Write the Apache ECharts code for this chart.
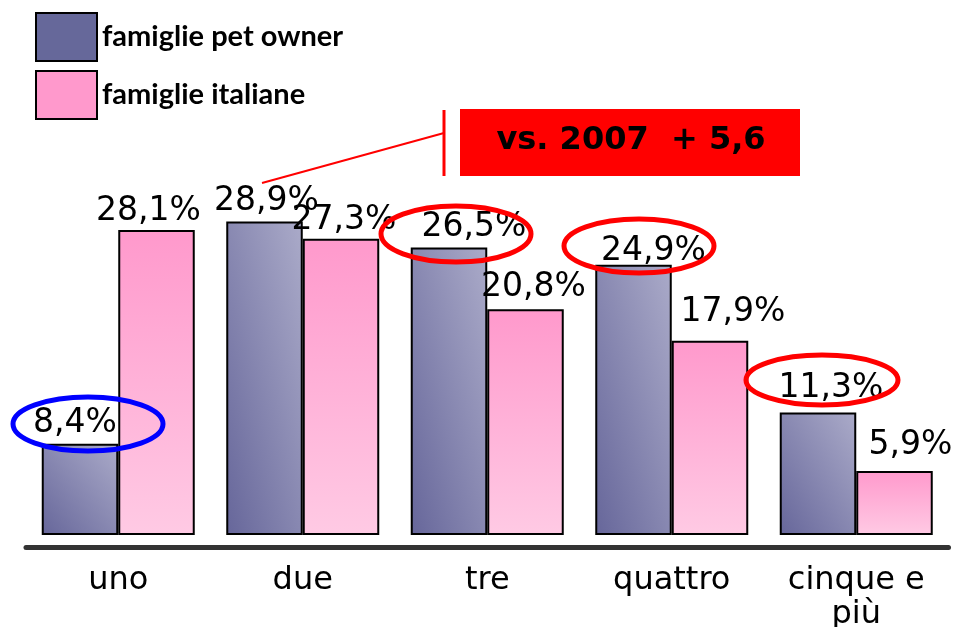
<!DOCTYPE html>
<html>
<head>
<meta charset="utf-8">
<script src="https://cdn.jsdelivr.net/npm/echarts@6/dist/echarts.min.js"></script>
<style>
  html, body { margin: 0; padding: 0; background: #fff; }
  #chart { width: 955px; height: 627px; }
</style>
</head>
<body>
<div id="chart"></div>
<script>
(function() {
    var categories = ['uno', 'due', 'tre', 'quattro', 'cinque e\npiù'];
    var seriesNames = ['famiglie pet owner', 'famiglie italiane'];
    var petOwner = [8.4, 28.9, 26.5, 24.9, 11.3];
    var italiane = [28.1, 27.3, 20.8, 17.9, 5.9];

    // label nudges (px) to follow the original slide
    var petLabelShift = [[-5, 0], [2, 0], [25, 0], [20, 7], [13, -3]];
    var itaLabelShift = [[-8, 2], [3, 2], [8, -1], [23, -8], [16, -5]];

    var yMax = 30;
    var gridTop = 209.5, gridBottom = 92, barW = 76.5;
    var plotH = 627 - gridTop - gridBottom;

    var myChart = echarts.init(document.getElementById('chart'));

    function fmt(v) {
        return String(v).replace('.', ',') + '%';
    }

    // diagonal shading stretched with the bar, like the office chart fill
    function petFill(v) {
        var h = v / yMax * plotH, w = barW;
        var s = h * h + w * w;
        return new echarts.graphic.LinearGradient(0, 1, 2 * h * h / s, 1 - 2 * w * w / s, [
            { offset: 0, color: '#66669a' },
            { offset: 1, color: '#ababc9' }
        ]);
    }

    var itaColor = new echarts.graphic.LinearGradient(0, 0, 0, 1, [
        { offset: 0, color: '#ff99cc' },
        { offset: 1, color: '#ffcae4' }
    ]);

    var labelStyle = {
        show: true,
        position: 'top',
        distance: 4,
        fontFamily: 'DejaVu Sans',
        fontSize: 33,
        color: '#000',
        formatter: function(p) { return fmt(p.value); }
    };

    var option = {
        animation: false,
        backgroundColor: '#fff',
        legend: {
            orient: 'vertical',
            left: 30,
            top: 7,
            itemWidth: 61,
            itemHeight: 48,
            itemGap: 8,
            icon: 'rect',
            data: [
                { name: seriesNames[0], itemStyle: { color: '#66689a', borderColor: '#000', borderWidth: 2 } },
                { name: seriesNames[1], itemStyle: { color: '#ff99cc', borderColor: '#000', borderWidth: 2 } }
            ],
            textStyle: {
                color: '#000',
                fontFamily: 'Lato',
                fontWeight: 'bold',
                fontSize: 29,
                padding: [0, 0, 6, 0]
            }
        },
        grid: {
            left: 26,
            right: 6.5,
            top: gridTop,
            bottom: gridBottom,
            containLabel: false,
            outerBoundsMode: 'none'
        },
        xAxis: {
            type: 'category',
            data: categories,
            offset: 12,
            axisLine: { onZero: false, lineStyle: { color: '#333', width: 5 } },
            axisTick: { show: false },
            axisLabel: {
                margin: 17,
                fontFamily: 'DejaVu Sans',
                fontSize: 32,
                lineHeight: 34,
                color: '#000'
            }
        },
        yAxis: {
            type: 'value',
            min: 0,
            max: yMax,
            show: false,
            splitLine: { show: false }
        },
        series: [
            {
                name: seriesNames[0],
                type: 'bar',
                barWidth: barW,
                barGap: '0%',
                data: petOwner.map(function(v, i) {
                    return { value: v, itemStyle: { color: petFill(v) }, label: { offset: petLabelShift[i] } };
                }),
                itemStyle: { borderColor: '#000', borderWidth: 2 },
                label: labelStyle,
                z: 2
            },
            {
                name: seriesNames[1],
                type: 'bar',
                barWidth: barW,
                barGap: '0%',
                data: italiane.map(function(v, i) {
                    return { value: v, label: { offset: itaLabelShift[i] } };
                }),
                itemStyle: { color: itaColor, borderColor: '#000', borderWidth: 2 },
                label: labelStyle,
                z: 2
            }
        ],
        graphic: [
            // callout box
            { type: 'rect', shape: { x: 460, y: 109, width: 340, height: 67 }, style: { fill: '#ff0000' }, z: 10 },
            { type: 'text', x: 631, y: 141, style: { text: 'vs. 2007  + 5,6', fill: '#000', font: 'bold 32px "DejaVu Sans"', align: 'center', verticalAlign: 'middle' }, z: 11 },
            { type: 'line', shape: { x1: 444, y1: 110, x2: 444, y2: 176 }, style: { stroke: '#ff0000', lineWidth: 3 }, z: 10 },
            { type: 'line', shape: { x1: 262, y1: 183, x2: 444, y2: 133 }, style: { stroke: '#ff0000', lineWidth: 2 }, z: 10 },
            // highlight rings
            { type: 'ellipse', shape: { cx: 88, cy: 424, rx: 75, ry: 27 }, style: { fill: 'none', stroke: '#0000ff', lineWidth: 5 }, z: 10 },
            { type: 'ellipse', shape: { cx: 456, cy: 234, rx: 75, ry: 28 }, style: { fill: 'none', stroke: '#ff0000', lineWidth: 5 }, z: 10 },
            { type: 'ellipse', shape: { cx: 639, cy: 246, rx: 75, ry: 27 }, style: { fill: 'none', stroke: '#ff0000', lineWidth: 5 }, z: 10 },
            { type: 'ellipse', shape: { cx: 822, cy: 380, rx: 76, ry: 25 }, style: { fill: 'none', stroke: '#ff0000', lineWidth: 5 }, z: 10 }
        ]
    };

    myChart.setOption(option);
    window.addEventListener('resize', function() {
        myChart.resize();
    });
})();
</script>
</body>
</html>
